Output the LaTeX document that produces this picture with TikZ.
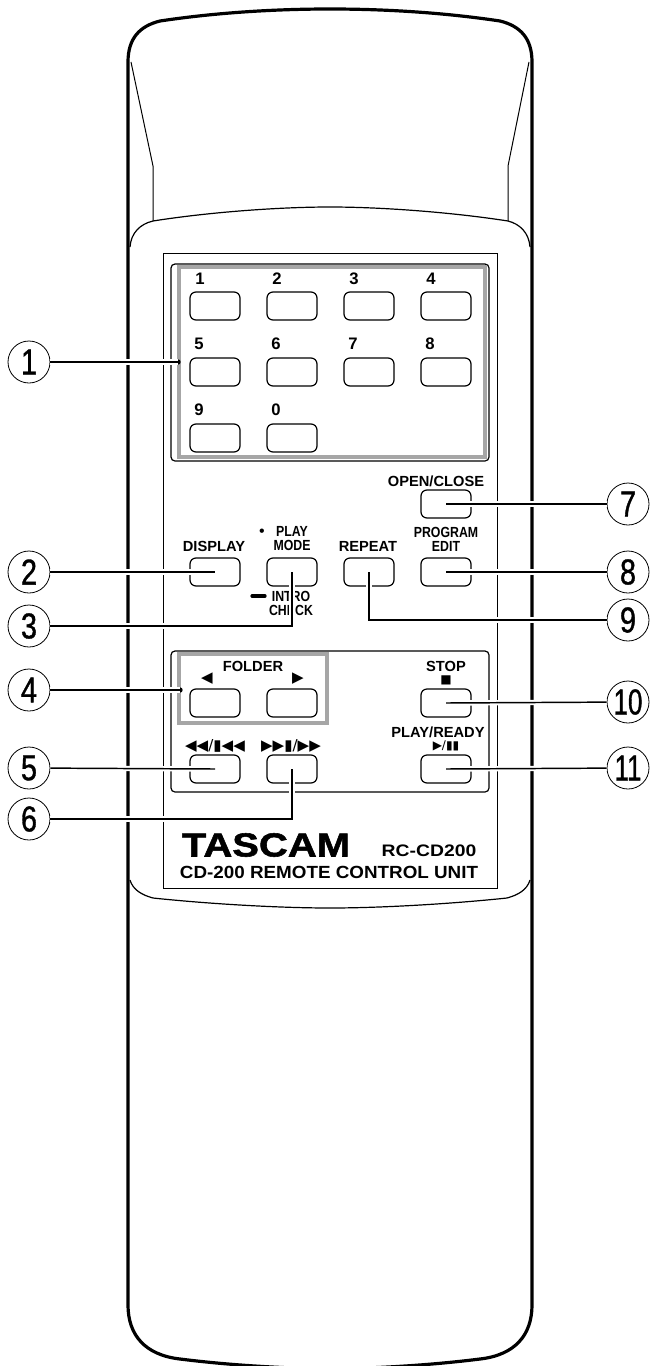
\documentclass[tikz,border=0pt]{standalone}
\usepackage{fontspec}
\setmainfont{Liberation Sans}
\newfontfamily\symfont{DejaVu Sans}
\newfontfamily\labfont{Liberation Sans Bold}
\newfontfamily\narrowfont[FakeStretch=.84]{Liberation Sans Bold}
\newfontfamily\calloutfont[FakeBold=1,FakeStretch=.8]{Liberation Sans}
\newfontfamily\brandfont[FakeBold=1.6,FakeStretch=1.2]{Liberation Sans Bold}
\newfontfamily\plainfont[FakeStretch=1.07]{Liberation Sans Bold}
\newfontfamily\modelfont[FakeStretch=1.16]{Liberation Sans Bold}
\tikzset{
  keybtn/.style={draw,line width=.9pt,rounded corners=4.5pt,minimum width=37.5pt,minimum height=21pt,inner sep=0pt},
  keytext/.style={inner sep=0pt,align=center,font=\fontsize{11}{13}\selectfont\labfont},
  narrowtext/.style={inner sep=0pt,align=center,font=\fontsize{11}{10.5}\selectfont\narrowfont},
  digittext/.style={inner sep=0pt,font=\fontsize{12.5}{13}\selectfont\bfseries},
  marktext/.style={inner sep=0pt,font=\fontsize{11.3}{12}\selectfont\symfont},
  smallmark/.style={inner sep=0pt,font=\fontsize{9}{10}\selectfont\symfont},
  callout/.style={draw,circle,line width=.6pt,minimum size=31.5pt,inner sep=0pt,fill=white,font=\fontsize{27}{27}\selectfont\calloutfont},
  leader/.style={line width=1.1pt,preaction={draw=white,line width=4pt}},
  greyframe/.style={draw=black!35,line width=2.6pt},
  blackframe/.style={draw,line width=.9pt,rounded corners=3pt},
  thinline/.style={draw,line width=.75pt}
}
\begin{document}
\begin{tikzpicture}[x=.75pt,y=-.75pt]
\useasboundingbox (0,0) rectangle (650,1366);

\draw[line width=2.4pt] (128,62) .. controls (128,38) and (140,26) .. (160,21) .. controls (220,12) and (280,9) .. (330,9) .. controls (380,9) and (440,12) .. (500,21) .. controls (520,26) and (532,38) .. (532,62) -- (532,1305) .. controls (532,1335) and (515,1355) .. (480,1359) .. controls (440,1364) and (390,1368) .. (330,1369) .. controls (270,1368) and (220,1364) .. (180,1359) .. controls (145,1355) and (128,1335) .. (128,1305) -- cycle;

\draw[line width=.75pt] (131,62) -- (153,166) -- (153,221);
\draw[line width=.75pt] (529,62) -- (508,166) -- (508,221);
\draw[line width=.9pt] (130,247) .. controls (131,233) and (140,224) .. (153,221) .. controls (210,212) and (280,207) .. (330,207) .. controls (380,207) and (450,212) .. (508,221) .. controls (520,224) and (529,233) .. (530,247);
\draw[line width=.9pt] (130,880) .. controls (133,890) and (142,895) .. (153,898) .. controls (210,904) and (280,908) .. (330,908) .. controls (380,908) and (450,904) .. (507,898) .. controls (518,895) and (527,890) .. (530,880);

\draw[thinline] (163,253) rectangle (497,888);
\draw[blackframe] (171,264) rectangle (489,461);
\draw[greyframe] (179,267) rectangle (485,457);
\draw[blackframe] (171,651) rectangle (489,792);
\draw[greyframe] (179,654) rectangle (327,723);

\node[keybtn] (kone) at (215,306) {};
\node[keybtn] (ktwo) at (292,306) {};
\node[keybtn] (kthree) at (369,306) {};
\node[keybtn] (kfour) at (446,306) {};
\node[keybtn] (kfive) at (215,372) {};
\node[keybtn] (ksix) at (292,372) {};
\node[keybtn] (kseven) at (369,372) {};
\node[keybtn] (keight) at (446,372) {};
\node[keybtn] (knine) at (215,438) {};
\node[keybtn] (kzero) at (292,438) {};

\node[digittext] (tone) at (200,279) {1};
\node[digittext] (ttwo) at (277,279) {2};
\node[digittext] (tthree) at (354,279) {3};
\node[digittext] (tfour) at (431,279) {4};
\node[digittext] (tfive) at (199,344) {5};
\node[digittext] (tsix) at (276,344) {6};
\node[digittext] (tseven) at (353,344) {7};
\node[digittext] (teight) at (430,344) {8};
\node[digittext] (tnine) at (199,410) {9};
\node[digittext] (tzero) at (276,410) {0};

\node[keybtn] (kopen) at (446,504) {};
\node[keybtn] (kdisplay) at (215,572) {};
\node[keybtn] (kmode) at (292,572) {};
\node[keybtn] (krepeat) at (369,572) {};
\node[keybtn] (kedit) at (446,572) {};
\node[keybtn] (kfolderl) at (215,703) {};
\node[keybtn] (kfolderr) at (292,703) {};
\node[keybtn] (kstop) at (446,703) {};
\node[keybtn] (kback) at (215,769) {};
\node[keybtn] (kfwd) at (292,769) {};
\node[keybtn] (kplay) at (446,769) {};

\node[keytext] (topen) at (436,481) {OPEN/CLOSE};
\node[keytext] (tdisplay) at (214,546) {DISPLAY};
\node[narrowtext] (tmode) at (292,539) {PLAY\\MODE};
\node[inner sep=0pt,font=\fontsize{12}{12}\selectfont] (tdot) at (262,533) {•};
\node[keytext] (trepeat) at (368,546) {REPEAT};
\node[narrowtext] (tedit) at (446,539) {PROGRAM\\EDIT};
\node[narrowtext] (tintro) at (291,603) {INTRO\\CHECK};
\draw[line width=2.4pt,line cap=round] (252,596) -- (265,596);
\node[keytext] (tfolder) at (253,666) {FOLDER};
\node[marktext] (tleft) at (207,679) {◀};
\node[marktext] (tright) at (298,679) {▶};
\node[keytext] (tstop) at (446,666) {STOP};
\node[smallmark] (tsquare) at (446,680) {■};
\node[keytext] (tready) at (438,732) {PLAY/READY};
\node[smallmark] (tpause) at (446,746) {▶/▮▮};
\node[marktext] (tback) at (215,746) {◀◀/▮◀◀};
\node[marktext] (tfwd) at (291,746) {▶▶▮/▶▶};

\node[inner sep=0pt,font=\fontsize{25}{25}\selectfont\brandfont] (tbrand) at (266,845) {TASCAM};
\node[inner sep=0pt,font=\fontsize{12.5}{13}\selectfont\modelfont] (tmodel) at (429,851) {RC-CD200};
\node[inner sep=0pt,font=\fontsize{13.2}{14}\selectfont\plainfont] (tunit) at (329,872) {CD-200 REMOTE CONTROL UNIT};

\node[callout] (none) at (29,362) {1};
\node[callout] (ntwo) at (29,572) {2};
\node[callout] (nthree) at (29,626) {3};
\node[callout] (nfour) at (29,690) {4};
\node[callout] (nfive) at (29,768) {5};
\node[callout] (nsix) at (29,819) {6};
\node[callout] (nseven) at (628,504) {7};
\node[callout] (neight) at (628,572) {8};
\node[callout] (nnine) at (628,620) {9};
\node[callout] (nten) at (628,702) {\scalebox{.9}[1]{10}};
\node[callout] (neleven) at (628,768) {\scalebox{.9}[1]{11}};

\fill (178,362) circle (2pt) coordinate (dotone);
\fill (180,690) circle (2pt) coordinate (dotfour);

\draw[leader] (none) -- (dotone);
\draw[leader] (ntwo) -- (kdisplay.center);
\draw[leader] (nthree) -| (kmode.center);
\draw[leader] (nfour) -- (dotfour);
\draw[leader] (nfive) -- (kback.center);
\draw[leader] (nsix) -| (kfwd.center);
\draw[leader] (nseven) -- (kopen.center);
\draw[leader] (neight) -- (kedit.center);
\draw[leader] (nnine) -| (krepeat.center);
\draw[leader] (nten) -- (kstop.center);
\draw[leader] (neleven) -- (kplay.center);
\end{tikzpicture}
\end{document}
